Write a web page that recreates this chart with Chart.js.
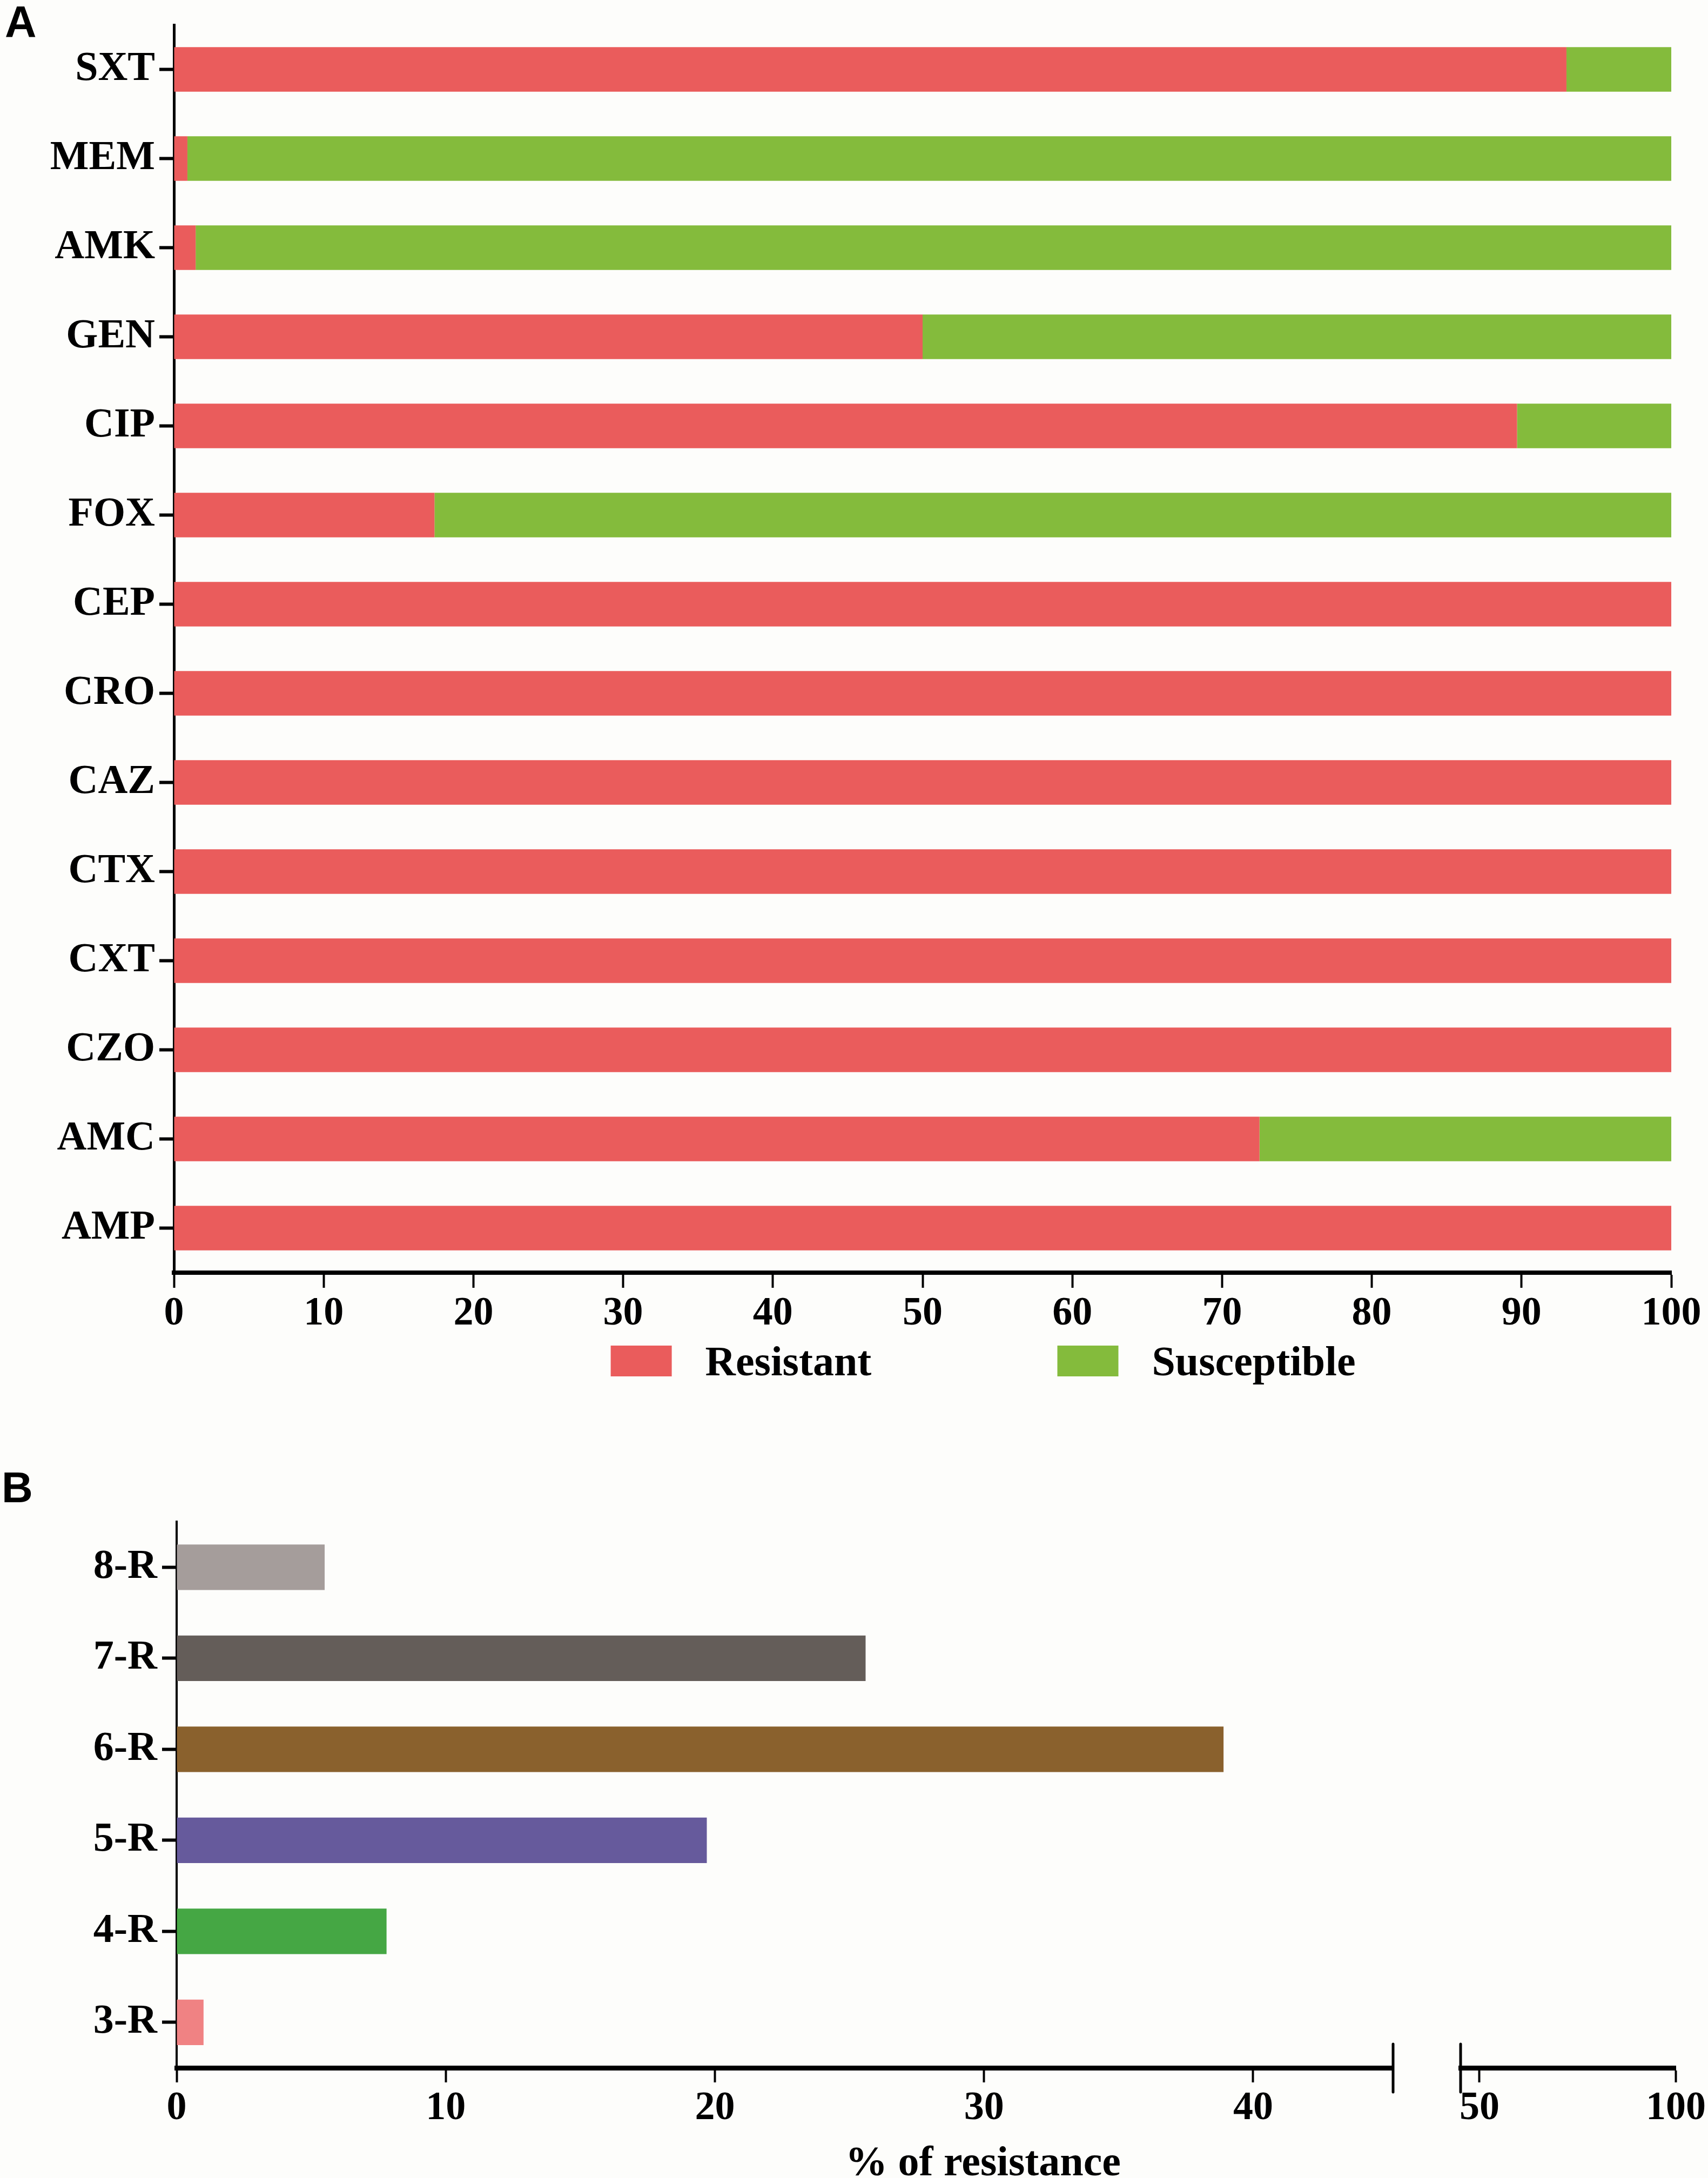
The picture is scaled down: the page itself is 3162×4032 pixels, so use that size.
<!DOCTYPE html>
<html>
<head>
<meta charset="utf-8">
<script src="https://cdn.jsdelivr.net/npm/chart.js@4.4.1/dist/chart.umd.min.js"></script>
<style>
  html, body { margin:0; padding:0; background:#fdfdfb; }
  body { width:3162px; height:4032px; position:relative; overflow:hidden; }
  canvas { position:absolute; }
  .panel { position:absolute; font-family:"Liberation Sans", Arial, sans-serif; font-weight:bold; line-height:1; color:#000; }
  .xtitle { position:absolute; font-family:"Liberation Serif", "Times New Roman", serif; font-weight:bold; font-size:78px; line-height:1; color:#000; white-space:nowrap; transform:translateX(-50%); }
</style>
</head>
<body>
<div class="panel" style="left:9px; top:0px; font-size:81px;">A</div>
<div class="panel" style="left:3px; top:2714px; font-size:80px;">B</div>
<canvas id="chartA" width="3162" height="2620" style="left:0; top:0; width:3162px; height:2620px;"></canvas>
<canvas id="chartB1" width="2640" height="1332" style="left:0; top:2700px; width:2640px; height:1332px;"></canvas>
<canvas id="chartB2" width="522" height="1332" style="left:2640px; top:2700px; width:522px; height:1332px;"></canvas>
<div class="xtitle" style="left:1820px; top:3962px;">% of resistance</div>
<script>
// ---------- Data ----------
const antibiotics = ['SXT','MEM','AMK','GEN','CIP','FOX','CEP','CRO','CAZ','CTX','CXT','CZO','AMC','AMP'];
const resistantPct   = [93, 0.9, 1.45, 50, 89.7, 17.4, 100, 100, 100, 100, 100, 100, 72.5, 100];
const susceptiblePct = [7, 99.1, 98.55, 50, 10.3, 82.6, 0, 0, 0, 0, 0, 0, 27.5, 0];
const seriesNames = ['Resistant', 'Susceptible'];
const ticksA = [0, 10, 20, 30, 40, 50, 60, 70, 80, 90, 100];

const mdrClasses = ['8-R', '7-R', '6-R', '5-R', '4-R', '3-R'];
const mdrPct = [5.5, 25.6, 38.9, 19.7, 7.8, 1.0];
const ticksB1 = [0, 10, 20, 30, 40];
const ticksB2 = [50, 100];
const breakLow = 45.2;   // axis break value

// ---------- Styles ----------
const RED = '#ea5c5c', GREEN = '#84bb3c';
const mdrColors = ['#a59d9b', '#645d59', '#8a612d', '#665a9c', '#45a744', '#f08283'];
const SERIF = '"Liberation Serif", "Times New Roman", serif';
const tickFont = { family: SERIF, weight: 'bold', size: 74 };
const catFont = { family: SERIF, weight: 'bold', size: 76 };

Chart.defaults.font.family = SERIF;
Chart.defaults.color = '#000';

function fixedTicks(arr) {
  return function (scale) { scale.ticks = arr.map(v => ({ value: v })); };
}
function fixWidth(w) {
  return function (scale) {
    scale.width = w;
    scale.paddingTop = 0;
    scale.paddingBottom = 0;
  };
}

const boxLegend = {
  id: 'boxLegend',
  afterDraw(chart, args, opts) {
    if (!opts || !opts.positions) return;
    const ctx = chart.ctx;
    const { left, right } = chart.chartArea;
    const w = right - left;
    ctx.save();
    ctx.font = 'bold 78px ' + SERIF;
    ctx.textBaseline = 'alphabetic';
    ctx.textAlign = 'left';
    chart.data.datasets.forEach((ds, i) => {
      const x = left + opts.positions[i] * w;
      ctx.fillStyle = ds.backgroundColor;
      ctx.fillRect(x, opts.y - 28, 113, 57);
      ctx.fillStyle = '#000';
      ctx.fillText(ds.label, x + 113 + 62, opts.y + 27);
    });
    ctx.restore();
  }
};

const breakMark = {
  id: 'breakMark',
  afterDraw(chart, args, opts) {
    if (!opts || !opts.side) return;
    const ctx = chart.ctx;
    const ca = chart.chartArea;
    const x = opts.side === 'right' ? ca.right : ca.left;
    ctx.save();
    ctx.strokeStyle = '#000';
    ctx.lineWidth = 5;
    ctx.lineCap = 'round';
    ctx.beginPath();
    ctx.moveTo(x, ca.bottom - 44);
    ctx.lineTo(x, ca.bottom + 45);
    ctx.stroke();
    ctx.restore();
  }
};

// ---------- Panel A ----------
new Chart(document.getElementById('chartA'), {
  type: 'bar',
  data: {
    labels: antibiotics,
    datasets: [
      { label: seriesNames[0], data: resistantPct, backgroundColor: RED, borderWidth: 0 },
      { label: seriesNames[1], data: susceptiblePct, backgroundColor: GREEN, borderWidth: 0 }
    ]
  },
  options: {
    indexAxis: 'y',
    responsive: false,
    devicePixelRatio: 1,
    animation: false,
    layout: { padding: { left: 0, right: 68, top: 46, bottom: 134 } },
    datasets: { bar: { barPercentage: 0.5, categoryPercentage: 1.0 } },
    plugins: {
      legend: { display: false },
      tooltip: { enabled: false },
      boxLegend: { positions: [0.2917, 0.590], y: 2519 }
    },
    scales: {
      x: {
        type: 'linear', stacked: true, min: 0, max: 100,
        afterBuildTicks: fixedTicks(ticksA),
        afterFit(scale) { scale.height = 130; },
        border: { display: true, color: '#000', width: 8 },
        grid: { drawOnChartArea: false, drawTicks: true, tickLength: 28, tickWidth: 4, tickColor: '#000' },
        ticks: { font: tickFont, color: '#000', padding: 4, maxRotation: 0 }
      },
      y: {
        type: 'category', stacked: true,
        afterFit: fixWidth(322),
        border: { display: true, color: '#000', width: 5 },
        grid: { offset: false, drawOnChartArea: false, drawTicks: true, tickLength: 27, tickWidth: 6, tickColor: '#000' },
        ticks: { font: catFont, color: '#000', padding: 8 }
      }
    }
  },
  plugins: [boxLegend]
});

// ---------- Panel B (left segment) ----------
new Chart(document.getElementById('chartB1'), {
  type: 'bar',
  data: {
    labels: mdrClasses,
    datasets: [
      { label: 'MDR', data: mdrPct, backgroundColor: mdrColors, borderWidth: 0 }
    ]
  },
  options: {
    indexAxis: 'y',
    responsive: false,
    devicePixelRatio: 1,
    animation: false,
    layout: { padding: { left: 0, right: 61, top: 117, bottom: 74 } },
    datasets: { bar: { barPercentage: 0.5, categoryPercentage: 1.0 } },
    plugins: {
      legend: { display: false },
      tooltip: { enabled: false },
      breakMark: { side: 'right' }
    },
    scales: {
      x: {
        type: 'linear', min: 0, max: breakLow,
        afterBuildTicks: fixedTicks(ticksB1),
        afterFit(scale) { scale.height = 130; },
        border: { display: true, color: '#000', width: 9 },
        grid: { drawOnChartArea: false, drawTicks: true, tickLength: 27, tickWidth: 4, tickColor: '#000' },
        ticks: { font: tickFont, color: '#000', padding: 4, maxRotation: 0 }
      },
      y: {
        type: 'category',
        afterFit: fixWidth(327),
        border: { display: true, color: '#000', width: 4 },
        grid: { offset: false, drawOnChartArea: false, drawTicks: true, tickLength: 27, tickWidth: 6, tickColor: '#000' },
        ticks: { font: catFont, color: '#000', padding: 9 }
      }
    }
  },
  plugins: [breakMark]
});

// ---------- Panel B (right segment after axis break) ----------
new Chart(document.getElementById('chartB2'), {
  type: 'bar',
  data: {
    labels: mdrClasses,
    datasets: [
      { label: 'MDR', data: mdrPct, backgroundColor: mdrColors, borderWidth: 0 }
    ]
  },
  options: {
    indexAxis: 'y',
    responsive: false,
    devicePixelRatio: 1,
    animation: false,
    layout: { padding: { left: 64, right: 58, top: 117, bottom: 74 } },
    datasets: { bar: { barPercentage: 0.5, categoryPercentage: 1.0 } },
    plugins: {
      legend: { display: false },
      tooltip: { enabled: false },
      breakMark: { side: 'left' }
    },
    scales: {
      x: {
        type: 'linear', min: breakLow, max: 100,
        afterBuildTicks: fixedTicks(ticksB2),
        afterFit(scale) { scale.height = 130; },
        border: { display: true, color: '#000', width: 9 },
        grid: { drawOnChartArea: false, drawTicks: true, tickLength: 27, tickWidth: 4, tickColor: '#000' },
        ticks: { font: tickFont, color: '#000', padding: 4, maxRotation: 0 }
      },
      y: { type: 'category', display: false }
    }
  },
  plugins: [breakMark]
});
</script>
</body>
</html>
